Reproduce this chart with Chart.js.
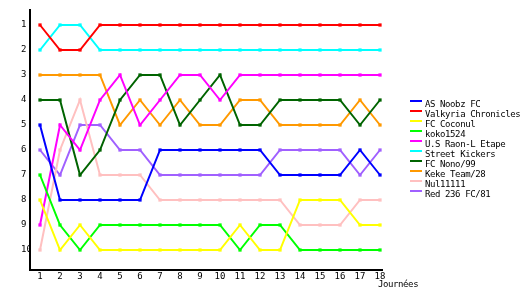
<!DOCTYPE html>
<html lang="fr">
<head>
    <meta charset="UTF-8">
    <title>Classement par journée</title>
    <script src="https://cdn.jsdelivr.net/npm/chart.js"></script>
    <style>
        body {
            margin: 0;
            padding: 0;
            background: #fff;
        }
        #wrap {
            width: 530px;
            height: 300px;
            position: relative;
        }
    </style>
</head>
<body>
    <div id="wrap">
        <canvas id="chart" width="530" height="300"></canvas>
    </div>

    <script>
        // journées 1..18 and rank ticks 1..10
        const rounds = [1, 2, 3, 4, 5, 6, 7, 8, 9, 10, 11, 12, 13, 14, 15, 16, 17, 18];
        const rankTicks = [1, 2, 3, 4, 5, 6, 7, 8, 9, 10];

        const teams = ['AS Noobz FC', 'Valkyria Chronicles', 'FC Coconul', 'koko1524', 'U.S Raon-L Etape',
            'Street Kickers', 'FC Nono/99', 'Keke Team/28', 'Nul11111', 'Red 236 FC/81'];
        const colors = ['#0000ff', '#ff0000', '#ffff00', '#00ff00', '#ff00ff',
            '#00ffff', '#006400', '#ff9900', '#ffc0c0', '#a060ff'];

        const asNoobz    = [5, 8, 8, 8, 8, 8, 6, 6, 6, 6, 6, 6, 7, 7, 7, 7, 6, 7];
        const valkyria   = [1, 2, 2, 1, 1, 1, 1, 1, 1, 1, 1, 1, 1, 1, 1, 1, 1, 1];
        const coconul    = [8, 10, 9, 10, 10, 10, 10, 10, 10, 10, 9, 10, 10, 8, 8, 8, 9, 9];
        const koko       = [7, 9, 10, 9, 9, 9, 9, 9, 9, 9, 10, 9, 9, 10, 10, 10, 10, 10];
        const raon       = [9, 5, 6, 4, 3, 5, 4, 3, 3, 4, 3, 3, 3, 3, 3, 3, 3, 3];
        const kickers    = [2, 1, 1, 2, 2, 2, 2, 2, 2, 2, 2, 2, 2, 2, 2, 2, 2, 2];
        const nono       = [4, 4, 7, 6, 4, 3, 3, 5, 4, 3, 5, 5, 4, 4, 4, 4, 5, 4];
        const keke       = [3, 3, 3, 3, 5, 4, 5, 4, 5, 5, 4, 4, 5, 5, 5, 5, 4, 5];
        const nul        = [10, 6, 4, 7, 7, 7, 8, 8, 8, 8, 8, 8, 8, 9, 9, 9, 8, 8];
        const red236     = [6, 7, 5, 5, 6, 6, 7, 7, 7, 7, 7, 7, 6, 6, 6, 6, 7, 6];

        const series = [asNoobz, valkyria, coconul, koko, raon, kickers, nono, keke, nul, red236];

        const FONT = 'DejaVu Sans Mono';

        // legend drawn by hand at the right, small monospace like the original
        const sideLegend = {
            id: 'sideLegend',
            afterDraw(chart) {
                const ctx = chart.ctx;
                ctx.save();
                ctx.font = '9px "' + FONT + '"';
                ctx.letterSpacing = '-0.4px';
                ctx.textBaseline = 'middle';
                ctx.textAlign = 'left';
                chart.data.datasets.forEach((ds, i) => {
                    const y = 101 + i * 10;
                    ctx.fillStyle = ds.borderColor;
                    ctx.fillRect(410, y - 1, 12, 2);
                    ctx.fillStyle = '#000';
                    ctx.fillText(ds.label, 425, y + 3.5);
                });
                // axis title under the last tick
                ctx.fillText('Journées', 378, 285);
                ctx.restore();
            }
        };

        const ctx = document.getElementById('chart').getContext('2d');
        new Chart(ctx, {
            type: 'line',
            data: {
                datasets: series.map((vals, i) => ({
                    label: teams[i],
                    data: vals.map((v, j) => ({ x: rounds[j], y: v })),
                    borderColor: colors[i],
                    backgroundColor: colors[i],
                    borderWidth: 2,
                    pointStyle: 'rect',
                    pointRadius: 2.3,
                    pointBorderWidth: 0,
                    tension: 0
                }))
            },
            options: {
                responsive: false,
                animation: false,
                layout: {
                    padding: { left: 21, top: 10, right: 148, bottom: 18 }
                },
                plugins: {
                    legend: { display: false },
                    tooltip: { enabled: false }
                },
                scales: {
                    x: {
                        type: 'linear',
                        min: 0.5,
                        max: 18.1,
                        afterBuildTicks: (s) => { s.ticks = rounds.map(v => ({ value: v })); },
                        afterFit: (s) => { s.height = 12; },
                        grid: { display: false, drawTicks: false },
                        border: { display: true, color: '#000', width: 2 },
                        ticks: {
                            color: '#000',
                            font: { family: FONT, size: 9 },
                            padding: 1,
                            maxRotation: 0,
                            autoSkip: false
                        }
                    },
                    y: {
                        type: 'linear',
                        reverse: true,
                        min: 0.4,
                        max: 10.8,
                        afterBuildTicks: (s) => { s.ticks = rankTicks.map(v => ({ value: v })); },
                        afterFit: (s) => { s.width = 9; },
                        grid: { display: false, drawTicks: false },
                        border: { display: true, color: '#000', width: 2 },
                        ticks: {
                            color: '#000',
                            crossAlign: 'far',
                            font: { family: FONT, size: 9 },
                            padding: 0
                        }
                    }
                }
            },
            plugins: [sideLegend]
        });
    </script>
</body>
</html>
